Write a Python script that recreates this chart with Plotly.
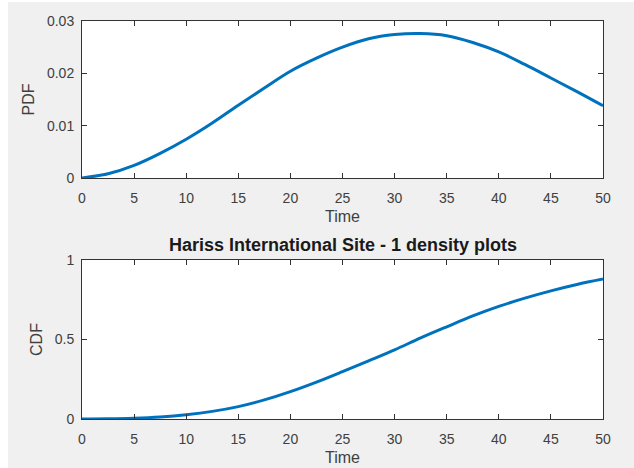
import plotly.graph_objects as go

time = [0, 2.5, 5, 7.5, 10, 12.5, 15, 17.5, 20, 22.5, 25, 27.5, 30, 32.5, 35, 37.5, 40, 42.5, 45, 47.5, 50]
pdf_vals = [0, 0.0008, 0.0024, 0.0047, 0.0074, 0.0105, 0.0139, 0.0172, 0.0204, 0.0229, 0.0250,
            0.0266, 0.0274, 0.0276, 0.0272, 0.0259, 0.0241, 0.0217, 0.0191, 0.0165, 0.0138]
cdf_vals = [0, 0.001, 0.005, 0.013, 0.027, 0.048, 0.078, 0.12, 0.172, 0.232, 0.298,
            0.366, 0.435, 0.51, 0.58, 0.648, 0.708, 0.76, 0.806, 0.846, 0.88]
x_ticks = [0, 5, 10, 15, 20, 25, 30, 35, 40, 45, 50]
pdf_ticks = [0, 0.01, 0.02, 0.03]
cdf_ticks = [0, 0.5, 1]
title_text = "Hariss International Site - 1 density plots"

W, H = 634, 468
ml, mr, mt, mb = 82, 31, 21, 49
ph = H - mt - mb
pw = W - ml - mr

def py(pix):
    return (H - mb - pix) / ph

FONT = "Liberation Sans, Arial, sans-serif"
AXC = "#333333"
LBL = "#404040"

fig = go.Figure()
fig.add_trace(go.Scatter(x=time, y=pdf_vals, mode="lines", line=dict(color="#0072BD", width=3, shape="spline"),
                         xaxis="x", yaxis="y", showlegend=False, hoverinfo="skip"))
fig.add_trace(go.Scatter(x=time, y=cdf_vals, mode="lines", line=dict(color="#0072BD", width=3, shape="spline"),
                         xaxis="x2", yaxis="y2", showlegend=False, hoverinfo="skip"))

common_x = dict(range=[0, 50], tickvals=x_ticks, ticks="inside", ticklen=5, tickcolor=AXC,
                showline=True, linecolor=AXC, linewidth=1, mirror="allticks", showgrid=False,
                zeroline=False, tickfont=dict(family=FONT, size=14, color=LBL), ticklabelstandoff=7,
                automargin=False,
                title=dict(text="Time", font=dict(family=FONT, size=16, color=LBL), standoff=6))
common_y = dict(ticks="inside", ticklen=5, tickcolor=AXC, showline=True, linecolor=AXC, linewidth=1,
                mirror="allticks", showgrid=False, zeroline=False, ticklabelstandoff=4, automargin=False,
                tickfont=dict(family=FONT, size=14, color=LBL))

fig.update_layout(
    width=W, height=H,
    margin=dict(l=ml, r=mr, t=mt, b=mb, pad=0, autoexpand=False),
    paper_bgcolor="#f0f0f0", plot_bgcolor="white",
    xaxis=dict(domain=[0, 1], anchor="y", **common_x),
    yaxis=dict(domain=[py(178), 1], anchor="x", range=[0, 0.03], tickvals=pdf_ticks,
               ticktext=["0", "0.01", "0.02", "0.03"],
               title=dict(text="PDF", font=dict(family=FONT, size=16, color=LBL), standoff=8), **common_y),
    xaxis2=dict(domain=[0, 1], anchor="y2", **common_x),
    yaxis2=dict(domain=[0, py(260)], anchor="x2", range=[0, 1], tickvals=cdf_ticks,
                ticktext=["0", "0.5", "1"],
                title=dict(text="CDF", font=dict(family=FONT, size=16, color=LBL), standoff=8), **common_y),
    annotations=[dict(text="<b>" + title_text + "</b>", xref="paper", yref="paper", x=0.5, y=py(245),
                      xanchor="center", yanchor="middle", showarrow=False,
                      font=dict(family=FONT, size=18, color="#1a1a1a"))],
    shapes=[
        dict(type="rect", xref="paper", yref="paper", x0=-ml / pw, x1=-(ml - 8) / pw, y0=py(H), y1=py(0),
             fillcolor="white", line=dict(width=0), layer="below"),
        dict(type="rect", xref="paper", yref="paper", x0=-ml / pw, x1=1 + mr / pw, y0=py(2), y1=py(0),
             fillcolor="white", line=dict(width=0), layer="below"),
    ],
)

fig.write_html("out.html")
